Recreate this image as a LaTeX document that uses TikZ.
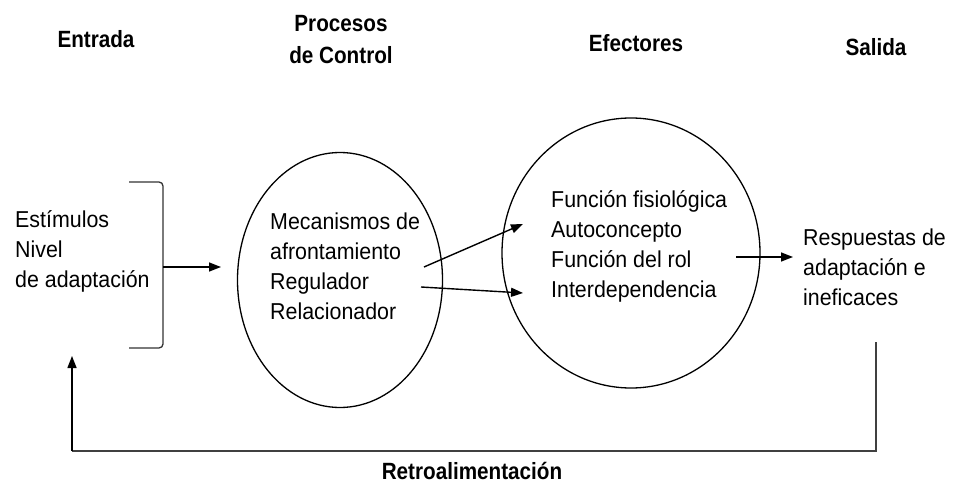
\documentclass[tikz,border=0pt]{standalone}
\usepackage{fontspec}
\setmainfont{Liberation Sans}[FakeStretch=0.93]
\newfontfamily\headfont{Liberation Sans}[FakeStretch=0.88]
\usetikzlibrary{arrows.meta,shapes.geometric}
\begin{document}
\begin{tikzpicture}[x=1pt,y=-1pt,
  body/.style={font=\fontsize{23}{30}\selectfont, align=left, inner sep=0pt, anchor=west},
  head/.style={font=\headfont\fontsize{23.5}{32}\selectfont\bfseries, align=center, inner sep=0pt},
  ring/.style={draw, ellipse, line width=1.3pt, inner sep=0pt},
  arr/.style={line width=1.4pt, -{Triangle[length=12pt,width=9pt]}},
  fb/.style={line width=1.4pt, draw=black!75}]
\useasboundingbox (0,0) rectangle (957,486);
% headers
\node[head] (h1) at (96,39) {Entrada};
\node[head] (h2) at (341,40) {Procesos\\de Control};
\node[head] (h3) at (636,43) {Efectores};
\node[head] (h4) at (876,47) {Salida};
\node[head] (h5) at (472,471) {Retroalimentación};
% ellipses
\node[ring, minimum width=205pt, minimum height=255pt] (c1) at (340,280) {};
\node[ring, minimum width=258pt, minimum height=270pt] (c2) at (631,253) {};
% texts
\node[body] (t0) at (15,251) {Estímulos\\Nivel\\de adaptación};
\node[body] (t1) at (270,266) {Mecanismos de\\afrontamiento\\Regulador\\Relacionador};
\node[body] (t2) at (551,246) {Función fisiológica\\Autoconcepto\\Función del rol\\Interdependencia};
\node[body] (t3) at (803,267) {Respuestas de\\adaptación e\\ineficaces};
% bracket
\draw[line width=1.3pt, draw=black!80, rounded corners=4pt] (129,182) -- (163,182) -- (163,348) -- (129,348);
\coordinate (br) at (163,267);
\coordinate (br2) at (221,267);
\draw[arr] (br) -- (br2);
% arrows between circles
\coordinate (a1s) at (424,267);
\coordinate (a1e) at (523,224);
\coordinate (a2s) at (421,287);
\coordinate (a2e) at (523,293);
\draw[arr] (a1s) -- (a1e);
\draw[arr] (a2s) -- (a2e);
\coordinate (o1) at (736,257);
\coordinate (o2) at (793,257);
\draw[arr] (o1) -- (o2);
% feedback
\coordinate (f1) at (876,342);
\coordinate (f2) at (876,451);
\coordinate (f3) at (72,451);
\coordinate (f4) at (72,356);
\draw[fb] (f1) -- (f2) -- (f3);
\draw[arr] (f3) -- (f4);
\end{tikzpicture}
\end{document}
